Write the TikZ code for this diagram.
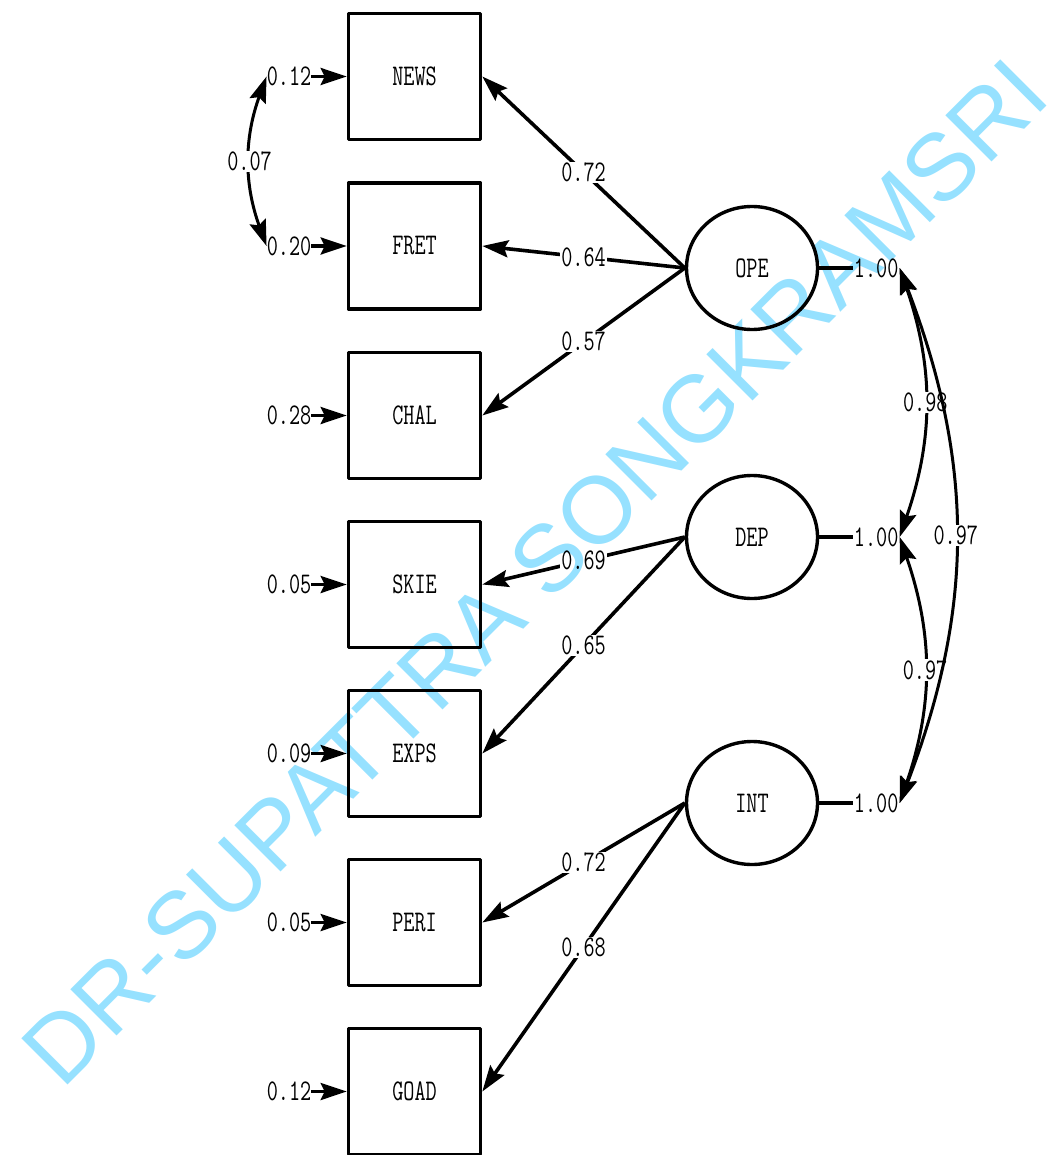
\documentclass[tikz,border=0pt]{standalone}
\usepackage{graphicx}
\usepackage{fontspec}
\usetikzlibrary{arrows.meta,shapes.geometric}
\newfontfamily\wmfont{Liberation Sans}
\definecolor{wmblue}{RGB}{150,225,255}
\newcommand{\lisrel}[1]{\scalebox{0.72}[1]{\fontsize{30}{30}\selectfont\ttfamily #1}}
\begin{document}
\begin{tikzpicture}[x=1pt,y=-1pt,line join=round,>={Stealth[length=26pt,width=17pt,inset=4pt]},
    obs/.style={draw,line width=3.6pt,minimum width=132pt,minimum height=126pt,inner sep=0pt},
    lat/.style={draw,ellipse,line width=3.4pt,minimum width=131pt,minimum height=123pt,inner sep=0pt},
    coef/.style={fill=white,inner sep=1pt},
    load/.style={->,line width=3.6pt},
    cov/.style={<->,line width=3pt}]
  \useasboundingbox (0,0) rectangle (1050,1155);

  % observed variables with their error variances
  \foreach \v/\y/\e in {NEWS/76.5/0.12,FRET/246/0.20,CHAL/415.5/0.28,SKIE/584.5/0.05,EXPS/753.5/0.09,PERI/922.5/0.05,GOAD/1091.5/0.12}{
    \node[obs] (\v) at (414.5,\y) {\lisrel{\v}};
    \node[coef,inner sep=0pt] (e\v) at (289,\y) {\lisrel{\e}};
    \draw[load] (e\v) -- (\v);
  }
  \draw[cov] (eNEWS.west) to[bend right=20] node[coef] {\lisrel{0.07}} (eFRET.west);

  % latent variables
  \node[lat] (OPE) at (752,268) {\lisrel{OPE}};
  \node[lat] (DEP) at (752,537) {\lisrel{DEP}};
  \node[lat] (INT) at (752,803) {\lisrel{INT}};

  \foreach \f/\v/\c in {OPE/NEWS/0.72,OPE/FRET/0.64,OPE/CHAL/0.57,DEP/SKIE/0.69,DEP/EXPS/0.65,INT/PERI/0.72,INT/GOAD/0.68}
    \draw[load] (\f.west) -- (\v.east) node[coef,midway] {\lisrel{\c}};

  \foreach \f in {OPE,DEP,INT}{
    \node[coef] (v\f) at ([xshift=57pt]\f.east) {\lisrel{1.00}};
    \draw[line width=3.6pt] (\f) -- (v\f);
  }

  % correlations between factors
  \draw[cov] (vOPE.east) to[bend left=19] node[coef] {\lisrel{0.98}} (vDEP.east);
  \draw[cov] (vDEP.east) to[bend left=19] node[coef] {\lisrel{0.97}} (vINT.east);
  \draw[cov] (vOPE.east) to[bend left=21] node[coef] {\lisrel{0.97}} (vINT.east);

  \begin{scope}[blend mode=multiply]
    \node[text=wmblue,rotate=45,font=\wmfont\fontsize{95}{95}\selectfont,inner sep=0pt] (mark) at (535,572) {DR-SUPATTRA SONGKRAMSRI};
  \end{scope}
\end{tikzpicture}
\end{document}
